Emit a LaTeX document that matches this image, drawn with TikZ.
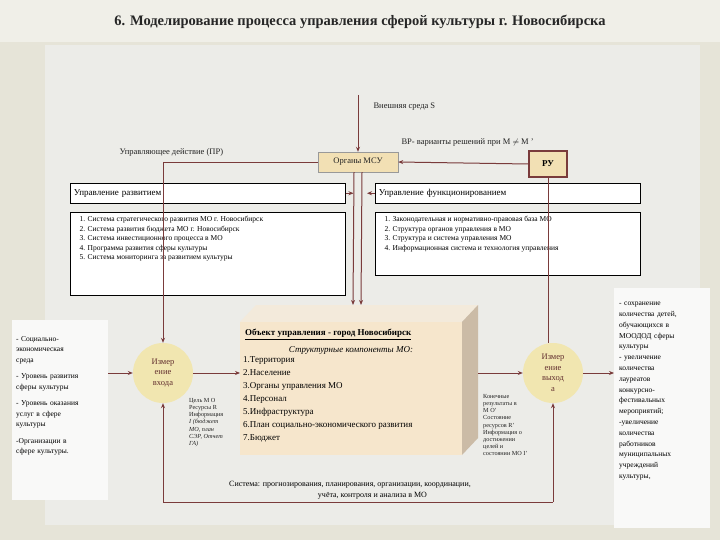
\documentclass[tikz,border=0pt]{standalone}
\usepackage{fontspec}
\setmainfont{Liberation Serif}
\usetikzlibrary{arrows.meta}
\definecolor{bg}{HTML}{E6E4D8}
\definecolor{panel}{HTML}{ECECE8}
\definecolor{ln}{HTML}{7A3B3B}
\definecolor{boxf}{HTML}{F2E0B4}
\definecolor{circ}{HTML}{F1E6B0}
\definecolor{objf}{HTML}{F6E6CC}
\definecolor{objs}{HTML}{CBBBA6}
\definecolor{objt}{HTML}{F3EADB}
\definecolor{txt}{HTML}{222222}
\tikzset{
 conn/.style={draw=ln,line width=1pt,-{Stealth[length=5pt,width=4pt]}},
 thin/.style={draw=ln,line width=0.6pt},
 hbox/.style={draw=black,fill=white,line width=0.5pt},
 sm/.style={font=\fontsize{8.5}{10}\selectfont,text=txt},
 tiny/.style={font=\fontsize{6.2}{7.2}\selectfont,text=txt,align=left,inner sep=0pt},
 meas/.style={circle,fill=circ,minimum size=60pt,inner sep=0pt,align=center,text=ln!80!black,font=\fontsize{8.5}{10.5}\selectfont},
}
\begin{document}
\begin{tikzpicture}[x=1pt,y=-1pt]
\useasboundingbox (0,0) rectangle (720,540);
\fill[bg] (0,0) rectangle (720,540);
\fill[panel] (45,45) rectangle (700,525);
\fill[bg!60!white] (0,0) rectangle (720,42);
\node[font=\bfseries\fontsize{14.5}{16}\selectfont,text=black!85] (title) at (360,22) {6. Моделирование процесса  управления сферой культуры г. Новосибирска};

% top labels
\coordinate (ext) at (358,95);
\node[sm,anchor=west] (extl) at (370,107) {Внешняя среда S};
\node[sm,anchor=west] (vr) at (398,142) {ВР- варианты решений при  M $\neq$ M '};
\node[sm,anchor=west] (upr) at (116,152) {Управляющее действие (ПР)};

\node[draw=black!40,fill=boxf,minimum width=80pt,minimum height=20pt,sm] (msu) at (358,162) {Органы МСУ};
\node[draw=ln,line width=1.5pt,fill=boxf,minimum width=38pt,minimum height=26pt,font=\bfseries\fontsize{9}{10}\selectfont] (ru) at (548,164) {РУ};
\draw[conn] (ext) -- (msu.north);
\draw[conn] (ru.west) -- (msu.east);

% heading boxes
\node[hbox,minimum width=275pt,minimum height=20pt,font=\fontsize{9}{10}\selectfont,anchor=north west,text width=268pt,align=left,inner sep=1pt] (hdev) at (70,183) {Управление развитием};
\node[hbox,minimum width=265pt,minimum height=20pt,font=\fontsize{9}{10}\selectfont,anchor=north west,text width=258pt,align=left,inner sep=1pt] (hfun) at (375,183) {Управление функционированием};
\node[hbox,minimum width=275pt,minimum height=83pt,anchor=north west] (ldev) at (70,212) {};
\node[anchor=north west,align=left,font=\fontsize{7.5}{9.5}\selectfont] (ldevt) at (76,213) {1. Система стратегического развития МО  г. Новосибирск\\2. Система развития бюджета МО г. Новосибирск\\3. Система инвестиционного процесса в МО\\4. Программа  развития  сферы культуры\\5. Система мониторинга за развитием культуры};
\node[hbox,minimum width=265pt,minimum height=63pt,anchor=north west] (lfun) at (375,212) {};
\node[anchor=north west,align=left,font=\fontsize{7.5}{9.5}\selectfont] (lfunt) at (381,213) {1. Законодательная и нормативно-правовая база МО\\2. Структура органов управления в МО\\3. Структура и система управления МО\\4. Информационная система и технология управления};

% object box (3D)
\coordinate (o1) at (240,322);
\coordinate (o3) at (462,455);
\fill[objt] (240,322) -- (256,305) -- (478,305) -- (462,322) -- cycle;
\fill[objs] (462,322) -- (478,305) -- (478,438) -- (462,455) -- cycle;
\fill[objf] (o1) rectangle (o3);
\coordinate (objtop) at (357,305);
\coordinate (objL) at (240,373);
\coordinate (objR) at (478,373);
\node[anchor=north west,font=\bfseries\fontsize{9}{10}\selectfont,inner sep=0pt] (objh) at (245,329) {\underline{Объект управления  - город Новосибирск}};
\node[font=\itshape\fontsize{9}{10}\selectfont,inner sep=0pt] (objs2) at (351,350) {Структурные компоненты МО:};
\node[anchor=north west,align=left,font=\fontsize{9}{13}\selectfont,inner sep=0pt] (objl) at (243,356) {1.Территория\\2.Население\\3.Органы управления МО\\4.Персонал\\5.Инфраструктура\\6.План социально-экономического развития\\7.Бюджет};

% central lines
\draw[conn] ([xshift=-4pt]msu.south) -- ([xshift=-4pt]objtop);
\draw[conn] ([xshift=4pt]msu.south) -- ([xshift=4pt]objtop);
\draw[conn] (hdev.east) -- ++(8,0);
\draw[conn] (hfun.west) -- ++(-8,0);

% circles
\node[meas] (min) at (163,373) {Измер\\ение\\входа};
\node[meas] (mout) at (553,373) {Измер\\ение\\выход\\а};

% left panel
\node[fill=white!70!panel,minimum width=96pt,minimum height=180pt,anchor=north west] (lp) at (12,320) {};
\node[anchor=north west,align=left,font=\fontsize{7.5}{10.5}\selectfont,text width=92pt,inner sep=0pt] (lpt) at (16,336) {- Социально-\\экономическая\\среда\\[6pt]- Уровень развития\\сферы культуры\\[6pt]- Уровень оказания\\услуг в сфере\\культуры\\[6pt]-Организации в\\сфере культуры.};
% right panel
\node[fill=white!70!panel,minimum width=96pt,minimum height=240pt,anchor=north west] (rp) at (614,288) {};
\node[anchor=north west,align=left,font=\fontsize{7.5}{10.8}\selectfont,text width=92pt,inner sep=0pt] (rpt) at (619,302) {- сохранение\\количества детей,\\обучающихся в\\МООДОД сферы\\культуры\\- увеличение\\количества\\лауреатов\\конкурсно-\\фестивальных\\мероприятий;\\-увеличение\\количества\\работников\\муниципальных\\учреждений\\культуры,};

% arrows between
\draw[conn] (lp.east |- min) -- (min.west);
\draw[conn] (min.east) -- (objL);
\draw[conn] (objR) -- (mout.west);
\draw[conn] (mout.east) -- (rp.west |- mout);

% control line
\coordinate (c1) at (163,162);
\draw[thin] (msu.west) -- (c1);
\draw[conn,line width=0.8pt] (c1) -- (min.north);
\draw[thin] (ru.south) -- (ru.south |- mout.north);
% feedback
\coordinate (f1) at (163,502);
\coordinate (f2) at (553,502);
\draw[thin,line width=0.8pt] (f1) -- (f2);
\draw[conn,line width=0.8pt] (f1) -- (min.south);
\draw[conn,line width=0.8pt] (f2) -- (mout.south);

% small texts
\node[tiny,anchor=north west] (lin) at (189,398) {Цель  М О\\Ресурсы R\\Информация\\\textit{I (бюджет}\\\textit{МО, план}\\\textit{СЭР, Отчет}\\\textit{ГА)}};
\node[tiny,anchor=north west] (lout) at (483,394) {Конечные\\результаты   в\\М О'\\Состояние\\ресурсов R'\\Информация о\\достижении\\целей и\\состоянии МО I'};
\node[font=\fontsize{8}{11.5}\selectfont,align=center] (sys) at (350,490) {Система: прогнозирования, планирования, организации, координации,\\\hspace*{45pt}учёта, контроля и анализа в МО};
\end{tikzpicture}
\end{document}
